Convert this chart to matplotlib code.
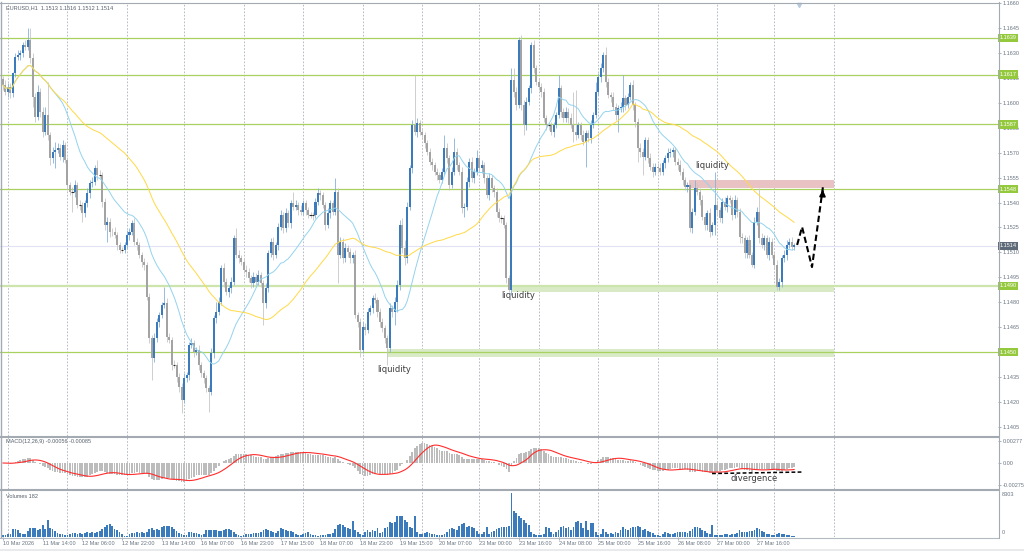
import numpy as np
import pandas as pd
import matplotlib
matplotlib.use("Agg")
import matplotlib.pyplot as plt
import matplotlib.transforms as mtransforms
from matplotlib.lines import Line2D
from matplotlib.patches import Rectangle

plt.rcParams['font.family'] = ['Liberation Sans', 'DejaVu Sans']

W, H = 1024, 551

# EURUSD H1 closes, one per bar (10 Mar 22:00 .. 30 Mar 08:00)
close = [
    1.16107, 1.16067, 1.16097, 1.16057, 1.16177, 1.16278, 1.16288, 1.16298, 1.16348, 1.16338,
    1.16378, 1.16267, 1.16037, 1.15917, 1.16067, 1.15947, 1.15826, 1.15927, 1.15806, 1.15666,
    1.15706, 1.15716, 1.15730, 1.15676, 1.15746, 1.15656, 1.15506, 1.15465, 1.15465, 1.15506,
    1.15385, 1.15385, 1.15335, 1.15395, 1.15455, 1.15516, 1.15526, 1.15606, 1.15566, 1.15566,
    1.15405, 1.15265, 1.15285, 1.15225, 1.15221, 1.15205, 1.15145, 1.15115, 1.15115, 1.15145,
    1.15205, 1.15225, 1.15275, 1.15165, 1.15145, 1.15085, 1.15044, 1.15024, 1.14834, 1.14583,
    1.14463, 1.14583, 1.14684, 1.14724, 1.14784, 1.14794, 1.14593, 1.14573, 1.14423, 1.14423,
    1.14353, 1.14293, 1.14212, 1.14343, 1.14363, 1.14543, 1.14553, 1.14503, 1.14513, 1.14423,
    1.14373, 1.14343, 1.14283, 1.14262, 1.14493, 1.14704, 1.14744, 1.14804, 1.15004, 1.14924,
    1.14864, 1.14884, 1.14924, 1.15185, 1.15085, 1.15064, 1.15044, 1.14994, 1.14984, 1.14944,
    1.14914, 1.14954, 1.14924, 1.14964, 1.14914, 1.14794, 1.14884, 1.15095, 1.15165, 1.15085,
    1.15145, 1.15255, 1.15325, 1.15245, 1.15335, 1.15275, 1.15395, 1.15375, 1.15385, 1.15355,
    1.15345, 1.15395, 1.15355, 1.15325, 1.15325, 1.15325, 1.15405, 1.15455, 1.15445, 1.15385,
    1.15265, 1.15335, 1.15395, 1.15345, 1.15465, 1.15085, 1.15165, 1.15064, 1.15125, 1.15105,
    1.15064, 1.15085, 1.14724, 1.14684, 1.14513, 1.14653, 1.14633, 1.14744, 1.14764, 1.14824,
    1.14814, 1.14744, 1.14684, 1.14643, 1.14583, 1.14523, 1.14764, 1.14744, 1.14804, 1.14904,
    1.15265, 1.15125, 1.15064, 1.15375, 1.15606, 1.15866, 1.15826, 1.15877, 1.15826, 1.15806,
    1.15756, 1.15706, 1.15646, 1.15626, 1.15586, 1.15566, 1.15536, 1.15586, 1.15726, 1.15666,
    1.15506, 1.15586, 1.15706, 1.15626, 1.15586, 1.15365, 1.15375, 1.15526, 1.15646, 1.15546,
    1.15586, 1.15666, 1.15606, 1.15626, 1.15546, 1.15445, 1.15546, 1.15486, 1.15465, 1.15345,
    1.15305, 1.15305, 1.15265, 1.14944, 1.14874, 1.16137, 1.16067, 1.15987, 1.16378, 1.15987,
    1.15866, 1.16007, 1.16087, 1.16348, 1.16207, 1.16127, 1.16097, 1.16067, 1.15907, 1.15866,
    1.15866, 1.15826, 1.15866, 1.15927, 1.16087, 1.15947, 1.15907, 1.15947, 1.15907, 1.15866,
    1.15826, 1.15806, 1.15866, 1.15806, 1.15766, 1.15816, 1.15786, 1.15866, 1.15927, 1.16067,
    1.16157, 1.16207, 1.16288, 1.16127, 1.16047, 1.16037, 1.15977, 1.15927, 1.15967, 1.15977,
    1.16027, 1.15987, 1.16037, 1.16107, 1.15987, 1.15887, 1.15726, 1.15706, 1.15676, 1.15776,
    1.15666, 1.15616, 1.15586, 1.15616, 1.15606, 1.15586, 1.15636, 1.15666, 1.15696, 1.15706,
    1.15716, 1.15646, 1.15626, 1.15586, 1.15536, 1.15496, 1.15506, 1.15245, 1.15345, 1.15486,
    1.15465, 1.15415, 1.15315, 1.15265, 1.15335, 1.15225, 1.15265, 1.15385, 1.15355, 1.15305,
    1.15405, 1.15375, 1.15425, 1.15415, 1.15325, 1.15415, 1.15345, 1.15195, 1.15185, 1.15095,
    1.15175, 1.15085, 1.15024, 1.15285, 1.15345, 1.15185, 1.15145, 1.15185, 1.15085, 1.15165,
    1.15085, 1.15024, 1.14894, 1.14924, 1.15064, 1.15085, 1.15145, 1.15165, 1.15135, 1.15145,
]
first_open = 1.1614

# wick lengths beyond the body, in pips
wick_up = [
    2, 3, 2, 2, 1, 2, 3, 2, 2, 3, 7, 7, 3, 2, 4, 2, 3, 5, 20, 2,
    3, 5, 3, 2, 3, 2, 2, 2, 3, 3, 2, 3, 2, 2, 3, 2, 3, 2, 5, 3,
    2, 2, 3, 2, 2, 3, 2, 2, 2, 2, 3, 2, 2, 3, 2, 2, 2, 2, 2, 2,
    2, 3, 2, 2, 2, 10, 3, 2, 2, 3, 2, 2, 2, 3, 2, 2, 3, 2, 2, 3,
    2, 2, 2, 2, 3, 2, 6, 3, 2, 3, 2, 2, 3, 2, 6, 3, 2, 2, 3, 2,
    2, 3, 2, 3, 2, 2, 3, 2, 2, 3, 2, 2, 3, 2, 3, 2, 2, 7, 3, 2,
    3, 2, 2, 2, 2, 2, 2, 3, 2, 2, 2, 3, 2, 2, 8, 2, 3, 2, 3, 2,
    2, 2, 3, 2, 2, 3, 2, 2, 2, 2, 3, 2, 2, 2, 2, 2, 3, 2, 3, 3,
    3, 4, 5, 3, 2, 3, 30, 3, 2, 2, 2, 2, 2, 2, 2, 2, 2, 2, 8, 3,
    2, 3, 8, 2, 2, 3, 2, 3, 2, 3, 2, 5, 2, 3, 2, 2, 3, 2, 2, 2,
    2, 2, 2, 2, 2, 7, 7, 3, 2, 3, 3, 3, 2, 2, 3, 2, 2, 2, 2, 2,
    2, 2, 2, 2, 8, 2, 2, 3, 2, 3, 20, 25, 2, 2, 3, 2, 2, 3, 2, 6,
    2, 3, 2, 5, 2, 2, 3, 2, 2, 3, 14, 2, 2, 2, 3, 2, 2, 3, 2, 2,
    2, 3, 2, 2, 2, 3, 2, 2, 3, 2, 2, 2, 2, 3, 2, 2, 2, 2, 2, 5,
    3, 2, 3, 2, 2, 3, 2, 20, 3, 2, 2, 3, 2, 2, 2, 3, 2, 2, 2, 2,
    2, 3, 2, 3, 3, 14, 3, 2, 2, 3, 2, 2, 3, 2, 2, 3, 3, 2, 3, 1,
]
wick_dn = [
    3, 2, 3, 3, 2, 2, 2, 3, 2, 2, 2, 3, 6, 3, 2, 3, 3, 2, 3, 4,
    3, 10, 2, 2, 3, 2, 3, 2, 12, 3, 2, 3, 5, 2, 2, 3, 2, 2, 3, 2,
    3, 3, 10, 3, 2, 2, 3, 2, 2, 2, 2, 3, 2, 2, 3, 2, 3, 3, 2, 3,
    13, 2, 2, 3, 2, 2, 3, 2, 3, 2, 3, 3, 8, 2, 2, 3, 2, 3, 2, 3,
    2, 3, 2, 12, 2, 3, 3, 2, 2, 3, 2, 3, 3, 2, 2, 3, 2, 2, 3, 2,
    3, 2, 3, 2, 2, 13, 3, 2, 2, 3, 2, 3, 2, 3, 2, 2, 3, 2, 2, 3,
    2, 2, 3, 2, 2, 3, 2, 2, 3, 2, 3, 2, 3, 2, 2, 17, 2, 3, 2, 3,
    3, 3, 2, 3, 4, 2, 3, 2, 2, 3, 2, 3, 3, 2, 3, 10, 2, 3, 8, 6,
    3, 3, 4, 3, 2, 3, 2, 3, 2, 2, 3, 2, 2, 3, 2, 3, 2, 2, 2, 3,
    3, 2, 2, 3, 2, 3, 5, 2, 3, 2, 3, 2, 2, 3, 3, 2, 3, 2, 3, 3,
    2, 3, 2, 3, 1, 3, 3, 3, 2, 3, 6, 3, 2, 3, 3, 2, 2, 3, 2, 3,
    3, 2, 3, 2, 2, 3, 2, 2, 3, 2, 6, 3, 2, 3, 2, 15, 2, 3, 2, 2,
    2, 3, 2, 3, 2, 3, 2, 3, 10, 2, 3, 3, 2, 2, 3, 3, 8, 3, 11, 2,
    3, 2, 3, 2, 3, 2, 2, 3, 2, 2, 3, 2, 3, 2, 3, 2, 3, 2, 3, 2,
    2, 3, 2, 3, 3, 3, 2, 6, 3, 2, 3, 2, 3, 2, 3, 2, 3, 4, 3, 3,
    3, 2, 1, 2, 2, 3, 2, 3, 2, 3, 2, 2, 2, 2, 3, 2, 3, 2, 2, 2,
]
volume = [
    320, 320, 512, 640, 1408, 1536, 1280, 832, 640, 640, 1152, 1600, 1728, 1600, 1280, 1536, 2240, 1536, 3200, 1600,
    1472, 1088, 768, 640, 640, 320, 320, 640, 768, 768, 640, 768, 640, 832, 896, 832, 960, 768, 960, 1088,
    1408, 1792, 2176, 2368, 2048, 1408, 1280, 1024, 512, 256, 256, 576, 704, 768, 896, 832, 896, 768, 1024, 1536,
    1664, 1280, 1408, 1280, 1920, 2048, 2048, 2112, 1920, 1408, 1088, 832, 640, 320, 384, 896, 960, 832, 704, 576,
    384, 512, 1280, 1280, 1280, 1216, 1216, 1152, 1152, 1280, 1408, 1472, 1280, 960, 640, 384, 256, 320, 512, 640,
    640, 768, 704, 704, 960, 1216, 1408, 1280, 1152, 896, 832, 1088, 1600, 1408, 1280, 1152, 1088, 960, 576, 384,
    320, 512, 704, 960, 640, 384, 320, 256, 320, 320, 384, 512, 640, 768, 1408, 2176, 2368, 2240, 1792, 1600,
    1408, 3072, 1280, 896, 512, 384, 960, 1216, 1024, 1280, 1152, 1600, 768, 896, 1664, 1856, 2880, 2560, 2880, 3840,
    3840, 3840, 3200, 2880, 1920, 1600, 3840, 960, 640, 640, 768, 896, 768, 640, 512, 320, 320, 320, 512, 960,
    1408, 1600, 1472, 1280, 2048, 2432, 2560, 1920, 2048, 1920, 1600, 1152, 640, 640, 960, 1920, 640, 960, 1152, 1408,
    1600, 1792, 1920, 1792, 2048, 8303, 4800, 4480, 3840, 3520, 3200, 2560, 2240, 960, 640, 320, 320, 320, 512, 1920,
    1600, 960, 640, 960, 1280, 1920, 2048, 1600, 1792, 1280, 1920, 2880, 3072, 2560, 1600, 3072, 1280, 2560, 2560, 896,
    320, 640, 1536, 960, 640, 768, 640, 960, 768, 1280, 1920, 1408, 1280, 1600, 1792, 1920, 2048, 1792, 1280, 1408,
    1088, 960, 768, 320, 320, 192, 512, 896, 768, 640, 640, 768, 1024, 1024, 1024, 960, 768, 1088, 1536, 1792,
    1792, 1600, 1280, 1152, 768, 640, 2176, 320, 320, 448, 448, 640, 512, 320, 512, 640, 768, 1280, 1024, 896,
    1024, 1088, 1152, 1280, 1600, 1408, 1152, 896, 640, 512, 384, 320, 640, 832, 640, 512, 384, 320, 256, 182,
]
assert len(close) == len(wick_up) == len(wick_dn) == len(volume) == 320

# right-axis scale labels (1.1450 sits under its level box)
price_ticks = [1.1405, 1.1420, 1.1435, 1.1465, 1.1480, 1.1495, 1.1510, 1.1525,
               1.1540, 1.1555, 1.1570, 1.1585, 1.1600, 1.1615, 1.1630, 1.1645, 1.1660]
levels = [1.1639, 1.1617, 1.1587, 1.1548, 1.1490, 1.1450]
last_price = 1.1514
day_starts = [2, 26, 50, 73, 97, 121, 145, 169, 192, 216, 240, 264, 288, 311, 335]
time_labels = ["10 Mar 2026", "11 Mar 14:00", "12 Mar 06:00", "12 Mar 22:00", "13 Mar 14:00",
               "16 Mar 07:00", "16 Mar 23:00", "17 Mar 15:00", "18 Mar 07:00", "18 Mar 23:00",
               "19 Mar 15:00", "20 Mar 07:00", "23 Mar 00:00", "23 Mar 16:00", "24 Mar 08:00",
               "25 Mar 00:00", "25 Mar 16:00", "26 Mar 08:00", "27 Mar 00:00", "27 Mar 16:00"]
label_step = 16

# zones: (first bar, last bar, low, high)
zone_red = (276.6, 335.1, 1.15487, 1.15535)
zones_green = [(205.2, 335.1, 1.14862, 1.14902), (154.8, 335.1, 1.14471, 1.14519)]
liquidity_notes = [(157.7, 1.14393), (207.9, 1.14838), (286.1, 1.15620)]
# forecast path drawn after the last bar
path_x = [320.2, 322.2, 326.2, 330.6]
path_y = [1.15145, 1.15253, 1.15012, 1.15493]
div_x = [285.9, 322.6]
div_y = [-0.00132, -0.00113]

BULL, BULL_W = '#3b7bbb', '#86b1da'
BEAR, BEAR_W = '#a3a3a3', '#c6c6c6'
LEVEL = '#a9d160'
FRAME = '#a3aab2'
TXT = '#6a7582'

c = np.array(close)
n = len(c)
x = np.arange(n)
o = np.r_[first_open, c[:-1]]
hi = np.maximum(o, c) + np.array(wick_up) * 1e-4
lo = np.minimum(o, c) - np.array(wick_dn) * 1e-4
bull = c > o + 0.00002
bear = c < o - 0.00002
doji = ~bull & ~bear

s = pd.Series(c)
ma_fast = s.rolling(20, min_periods=1).mean()
ma_slow = s.rolling(50, min_periods=1).mean()
macd = s.ewm(span=12, adjust=False).mean() - s.ewm(span=26, adjust=False).mean()
signal = macd.rolling(9, min_periods=1).mean()


def rect(l, t, r, b):
    return [l / W, 1 - b / H, (r - l) / W, (b - t) / H]


fig = plt.figure(figsize=(W / 100, H / 100), dpi=100, facecolor='white')
ax = fig.add_axes(rect(0, 3, 998, 436))
ax_m = fig.add_axes(rect(0, 437, 998, 489))
ax_v = fig.add_axes(rect(0, 491, 998, 537))

xlim = (-1.21, 401.2)
for a in (ax, ax_m, ax_v):
    a.set_xlim(*xlim)
    for sp in a.spines.values():
        sp.set_visible(False)
    a.set_facecolor('white')
    for d in day_starts:
        a.axvline(d, color='#a9b1b9', lw=0.6, ls=(0, (2, 2)), zorder=0.5)
    a.tick_params(axis='x', bottom=False, labelbottom=False)

# ---- price panel ----
ax.set_ylim(1.13996, 1.1660)
ax.yaxis.tick_right()
ax.set_yticks(price_ticks)
ax.set_yticklabels([f"{p:.4f}" for p in price_ticks])
ax.tick_params(axis='y', length=2, width=0.5, color='#8a939c', labelsize=4,
               labelcolor=TXT, pad=1.5)

ax.axhline(last_price, color='#e2e2f6', lw=0.8, zorder=0.6)
x0, x1, y0, y1 = zone_red
ax.add_patch(Rectangle((x0, y0), x1 - x0, y1 - y0, fc='#e9c3c3', ec='none', zorder=0.7))
for x0, x1, y0, y1 in zones_green:
    ax.add_patch(Rectangle((x0, y0), x1 - x0, y1 - y0, fc='#d8ebc6', ec='none', zorder=0.7))
for p in levels:
    if p == 1.1490:
        ax.axhline(p, color='#cde5ad', lw=1.6, zorder=0.9)
    else:
        ax.axhline(p, color=LEVEL, lw=0.9, zorder=0.9)

ax.vlines(x[bull], lo[bull], hi[bull], color=BULL_W, lw=0.6, zorder=2)
ax.vlines(x[~bull], lo[~bull], hi[~bull], color=BEAR_W, lw=0.6, zorder=2)
ax.bar(x[bull], (c - o)[bull], bottom=o[bull], width=0.82, color=BULL, lw=0, zorder=2.5)
ax.bar(x[bear], (o - c)[bear], bottom=c[bear], width=0.82, color=BEAR, lw=0, zorder=2.5)
ax.hlines(c[doji], x[doji] - 0.45, x[doji] + 0.45, color='#2b2b2b', lw=0.8, zorder=2.6)

ax.plot(x, ma_fast, color='#93d3ee', lw=0.7, zorder=3)
ax.plot(x, ma_slow, color='#ffd945', lw=0.7, zorder=3)

for bx, by in liquidity_notes:
    ax.text(bx, by, "liquidity", fontsize=6, color='#3c3c3c', ha='center', va='center',
            family='DejaVu Sans', zorder=5)

ax.plot(path_x, path_y, color='black', lw=1.5, ls=(0, (3, 1.6)), zorder=5)
ax.annotate("", xy=(path_x[-1], path_y[-1]),
            xytext=(path_x[-1] - 0.12, path_y[-1] - 0.0004),
            arrowprops=dict(arrowstyle='-|>', color='black', lw=1.2, mutation_scale=9),
            zorder=5)

# level price boxes on the right axis
tr = mtransforms.blended_transform_factory(fig.transFigure, ax.transData)
for p in levels:
    ax.text(999.5 / W, p, f"{p:.4f}", transform=tr, fontsize=4, color='white', ha='left',
            va='center', bbox=dict(boxstyle='square,pad=0.3', fc='#95c93d', ec='none'),
            clip_on=False, zorder=6)
ax.text(999.5 / W, last_price, f"{last_price:.4f}", transform=tr, fontsize=4, color='white',
        ha='left', va='center', bbox=dict(boxstyle='square,pad=0.3', fc='#5f6b78', ec='none'),
        clip_on=False, zorder=6)
ax.plot([320.9], [1.16585], marker='v', ms=3, color='#b9c9e0', clip_on=False, zorder=6)

# ---- MACD panel ----
ax_m.set_ylim(-0.00326, 0.00326)
ax_m.bar(x, macd, width=0.7, color='#bcbcbc', lw=0, zorder=2)
ax_m.plot(x, signal, color='#ff2d2d', lw=0.8, zorder=3)
ax_m.plot(div_x, div_y, color='black', lw=1.1, ls=(0, (2.5, 1.5)), zorder=4)
ax_m.text(303.0, -0.00195, "divergence", fontsize=6, color='#3c3c3c', ha='center',
          va='center', family='DejaVu Sans', zorder=5)
ax_m.yaxis.tick_right()
ax_m.set_yticks([0.00277, 0.0, -0.00275])
ax_m.set_yticklabels(["0.00277", "0.00", "-0.00275"])
ax_m.tick_params(axis='y', length=2, width=0.5, color='#8a939c', labelsize=4,
                 labelcolor=TXT, pad=1.5)

# ---- volume panel ----
ax_v.set_ylim(0, 8600)
ax_v.bar(x, volume, width=0.72, color='#3b7bbb', lw=0, zorder=2)
ax_v.set_yticks([])
ax_v.set_xticks(np.arange(len(time_labels)) * label_step)
ax_v.set_xticklabels(time_labels, ha='left')
ax_v.tick_params(axis='x', bottom=True, labelbottom=True, length=2, width=0.5,
                 color='#8a939c', labelsize=4, labelcolor=TXT, pad=1)
fig.text(1002 / W, 1 - 495 / H, "8303", fontsize=4, color=TXT, va='center')
fig.text(1002 / W, 1 - 533 / H, "0", fontsize=4, color=TXT, va='center')

# ---- panel captions ----
fig.text(6 / W, 1 - 7.5 / H, "EURUSD,H1  1.1513 1.1516 1.1512 1.1514", fontsize=4,
         color='#56606b', va='center')
fig.text(6 / W, 1 - 442 / H, "MACD(12,26,9) -0.00056 -0.00085", fontsize=4,
         color='#56606b', va='center')
fig.text(6 / W, 1 - 496 / H, "Volumes 182", fontsize=4, color='#56606b', va='center')


# ---- frame lines ----
def fline(xs, ys, color=FRAME, lw=0.8):
    fig.add_artist(Line2D([v / W for v in xs], [1 - v / H for v in ys], color=color, lw=lw,
                          transform=fig.transFigure))


fline([0, 998], [2.5, 2.5])
fline([0, 998], [436.5, 436.5], lw=1.5)
fline([0, 998], [490, 490], lw=1.5)
fline([0, 998], [537.5, 537.5], color='#b4bac1')
fline([998.5, 998.5], [2, 538])
fline([1, 1], [2, 537], lw=1.0)
fline([0, 1024], [549.5, 549.5], color='#e4e6e8', lw=1.2)

fig.savefig("out.png", dpi=100, facecolor='white')
